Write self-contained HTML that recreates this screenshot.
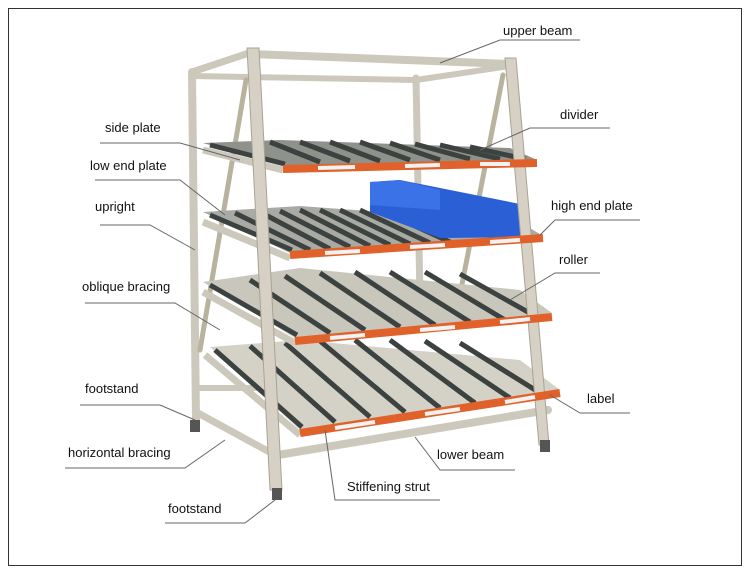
<!DOCTYPE html>
<html><head><style>
body{margin:0;background:#fff;width:750px;height:574px;overflow:hidden}
svg text{font-family:"Liberation Sans",sans-serif;font-size:13px;fill:#111}
</style></head><body>
<svg width="750" height="574" viewBox="0 0 750 574">
<rect x="8.5" y="8.5" width="733" height="557" fill="#fff" stroke="#333" stroke-width="1"/>
<g stroke="#cdc8bc" stroke-linecap="round" fill="none">
<line x1="192" y1="72" x2="196" y2="420" stroke-width="8"/>
<line x1="416" y1="78" x2="420" y2="300" stroke-width="7"/>
<line x1="192" y1="72" x2="252" y2="52" stroke-width="7"/>
<line x1="252" y1="54" x2="510" y2="64" stroke-width="8"/>
<line x1="192" y1="76" x2="416" y2="80" stroke-width="6"/>
<line x1="416" y1="80" x2="510" y2="66" stroke-width="6"/>
<line x1="246" y1="80" x2="200" y2="350" stroke="#b8b29f" stroke-width="5"/>
<line x1="503" y1="75" x2="455" y2="320" stroke="#b8b29f" stroke-width="5"/>
<line x1="196" y1="412" x2="275" y2="455" stroke-width="7"/>
<line x1="196" y1="388" x2="300" y2="388" stroke-width="6"/>
<line x1="278" y1="455" x2="548" y2="410" stroke-width="8"/>
</g>
<g>
<polygon points="203,143 283,166 537,160 510,148 280,140" fill="#8f918b"/>
<polygon points="203,212 290,253 543,236 520,222 300,206" fill="#a9aaa3"/>
<polygon points="203,282 295,338 552,313 520,290 300,268" fill="#c9c6bc"/>
<polygon points="210,347 300,430 560,390 520,360 300,340" fill="#d4d1c7"/>
</g>
<g stroke="#3c4240" stroke-width="5">
<line x1="210" y1="145" x2="285" y2="164"/><line x1="270" y1="142" x2="320" y2="162"/><line x1="330" y1="142" x2="380" y2="161"/><line x1="390" y1="143" x2="440" y2="160"/><line x1="440" y1="145" x2="500" y2="159"/>
<line x1="300" y1="142" x2="350" y2="161"/><line x1="360" y1="142" x2="410" y2="160"/><line x1="415" y1="144" x2="470" y2="159"/><line x1="470" y1="147" x2="525" y2="159"/>
<line x1="210" y1="215" x2="292" y2="250"/><line x1="260" y1="212" x2="330" y2="249"/><line x1="300" y1="210" x2="370" y2="246"/><line x1="340" y1="210" x2="410" y2="244"/><line x1="380" y1="210" x2="450" y2="242"/><line x1="440" y1="212" x2="500" y2="240"/>
<line x1="235" y1="213" x2="310" y2="250"/><line x1="280" y1="211" x2="350" y2="247"/><line x1="320" y1="210" x2="390" y2="245"/><line x1="360" y1="210" x2="430" y2="243"/>
<line x1="210" y1="285" x2="297" y2="335"/><line x1="250" y1="280" x2="330" y2="333"/><line x1="285" y1="276" x2="365" y2="330"/><line x1="320" y1="273" x2="400" y2="327"/><line x1="355" y1="272" x2="435" y2="325"/><line x1="390" y1="272" x2="470" y2="322"/><line x1="425" y1="272" x2="505" y2="320"/><line x1="460" y1="274" x2="535" y2="316"/>
<line x1="215" y1="350" x2="302" y2="427"/><line x1="250" y1="346" x2="335" y2="422"/><line x1="285" y1="343" x2="370" y2="417"/><line x1="320" y1="341" x2="405" y2="412"/><line x1="355" y1="340" x2="440" y2="408"/><line x1="390" y1="340" x2="475" y2="403"/><line x1="425" y1="341" x2="510" y2="398"/><line x1="460" y1="343" x2="540" y2="393"/>
</g>
<g stroke="#cdc8bc" stroke-width="7">
<line x1="203" y1="150" x2="283" y2="170"/><line x1="203" y1="222" x2="290" y2="258"/><line x1="203" y1="292" x2="295" y2="343"/><line x1="205" y1="355" x2="300" y2="435"/>
</g>
<polygon points="370,182 400,180 525,205 525,237 440,238 370,212" fill="#2b5fd6"/>
<polygon points="370,182 400,180 440,190 440,210 370,205" fill="#3b72e8"/>
<polygon points="247,48 259,48 282,490 270,490" fill="#d6d1c4" stroke="#a9a393"/>
<polygon points="505,58 516,58 549,445 539,445" fill="#d6d1c4" stroke="#a9a393"/>
<rect x="190" y="420" width="10" height="12" fill="#555"/>
<rect x="272" y="488" width="10" height="12" fill="#555"/>
<rect x="540" y="440" width="10" height="12" fill="#555"/>
<g stroke="#e0622a" stroke-width="8">
<line x1="283" y1="169" x2="537" y2="163"/>
<line x1="290" y1="255" x2="543" y2="238"/>
<line x1="295" y1="341" x2="552" y2="317"/>
<line x1="300" y1="433" x2="560" y2="393"/>
</g>
<g stroke="#f2f2f2" stroke-width="4">
<line x1="318" y1="168" x2="355" y2="167"/><line x1="405" y1="166" x2="440" y2="165"/><line x1="480" y1="164" x2="510" y2="164"/>
<line x1="325" y1="253" x2="360" y2="251"/><line x1="410" y1="247" x2="445" y2="245"/><line x1="490" y1="242" x2="520" y2="240"/>
<line x1="330" y1="338" x2="365" y2="335"/><line x1="420" y1="330" x2="455" y2="327"/><line x1="500" y1="322" x2="530" y2="319"/>
<line x1="335" y1="428" x2="375" y2="422"/><line x1="425" y1="414" x2="460" y2="409"/><line x1="505" y1="402" x2="535" y2="397"/>
</g>
<g stroke="#666" stroke-width="1" fill="none">
<polyline points="440,63 500,40 580,40"/>
<polyline points="100,143 180,143 240,160"/>
<polyline points="480,150 530,128 610,128"/>
<polyline points="95,180 180,180 225,215"/>
<polyline points="540,235 555,220 640,220"/>
<polyline points="100,225 150,225 195,250"/>
<polyline points="510,300 555,273 600,273"/>
<polyline points="85,303 175,303 220,330"/>
<polyline points="80,405 160,405 195,420"/>
<polyline points="550,395 580,413 630,413"/>
<polyline points="65,468 185,468 225,440"/>
<polyline points="415,437 440,470 515,470"/>
<polyline points="325,430 335,500 440,500"/>
<polyline points="165,523 245,523 275,500"/>
</g>
<text x="503" y="35">upper beam</text>
<text x="105" y="132">side plate</text>
<text x="560" y="119">divider</text>
<text x="90" y="170">low end plate</text>
<text x="551" y="210">high end plate</text>
<text x="95" y="211">upright</text>
<text x="559" y="264">roller</text>
<text x="82" y="291">oblique bracing</text>
<text x="85" y="393">footstand</text>
<text x="587" y="403">label</text>
<text x="68" y="457">horizontal bracing</text>
<text x="437" y="459">lower beam</text>
<text x="347" y="491">Stiffening strut</text>
<text x="168" y="513">footstand</text>
</svg>
</body></html>
